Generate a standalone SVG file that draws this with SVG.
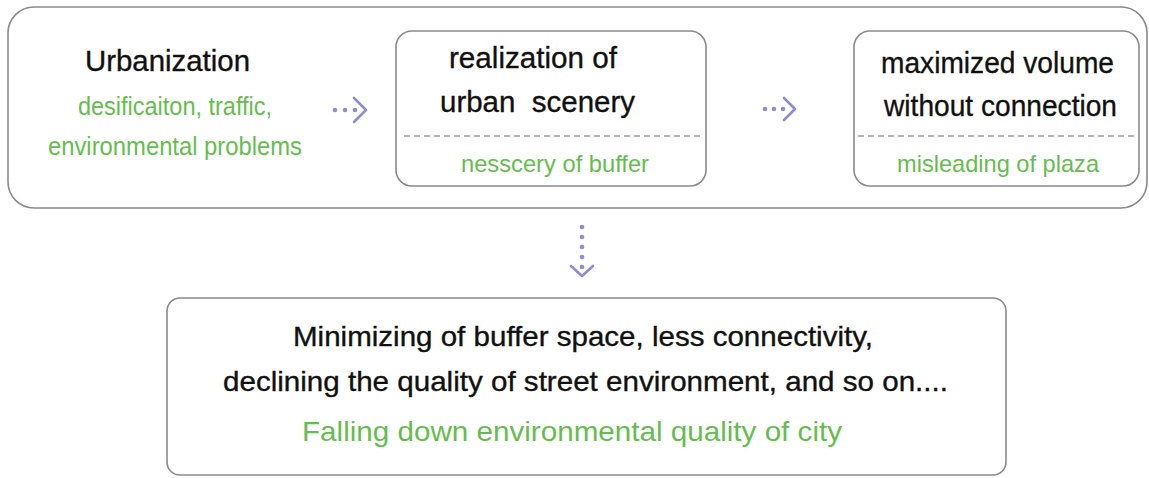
<svg xmlns="http://www.w3.org/2000/svg" width="1149" height="478" viewBox="0 0 1149 478">
<defs>
<style>
.box{fill:#fff;stroke:#8a8a8a;stroke-width:1.6}
.t{font-family:"Liberation Sans",Arial,sans-serif;fill:#111;stroke:#111;stroke-width:0.35}
.g{font-family:"Liberation Sans",Arial,sans-serif;fill:#66bd4f}
.dash{stroke:#9a9a9a;stroke-width:1.6;stroke-dasharray:6 4;fill:none}
.dot{fill:#8f8bd6}
.chev{fill:none;stroke:#8f8bd6;stroke-width:2.6;stroke-linecap:round;stroke-linejoin:round}
</style>
</defs>
<rect width="1149" height="478" fill="#fff"/>
<g id="outer">
<rect class="box" x="8" y="7" width="1139" height="201" rx="26"/>
</g>
<g id="urbanization">
<text class="t" x="85" y="71" font-size="29.5" textLength="165" lengthAdjust="spacingAndGlyphs">Urbanization</text>
<text class="g" x="78" y="115" font-size="25" textLength="194" lengthAdjust="spacingAndGlyphs">desificaiton, traffic,</text>
<text class="g" x="48" y="155" font-size="25" textLength="254" lengthAdjust="spacingAndGlyphs">environmental problems</text>
</g>
<g id="realization">
<rect class="box" x="396" y="31" width="310" height="155" rx="16"/>
<text class="t" x="449" y="68" font-size="30" textLength="168" lengthAdjust="spacingAndGlyphs">realization of</text>
<text class="t" x="440" y="112" font-size="30" textLength="195" lengthAdjust="spacingAndGlyphs" xml:space="preserve">urban  scenery</text>
<line class="dash" x1="404" y1="136" x2="700" y2="136"/>
<text class="g" x="461" y="172" font-size="24" textLength="188" lengthAdjust="spacingAndGlyphs">nesscery of buffer</text>
</g>
<g id="maximized">
<rect class="box" x="854" y="31" width="285" height="155" rx="16"/>
<text class="t" x="881" y="73" font-size="30" textLength="233" lengthAdjust="spacingAndGlyphs">maximized volume</text>
<text class="t" x="884" y="116" font-size="30" textLength="233" lengthAdjust="spacingAndGlyphs">without connection</text>
<line class="dash" x1="858" y1="136" x2="1136" y2="136"/>
<text class="g" x="897" y="172" font-size="24" textLength="202" lengthAdjust="spacingAndGlyphs">misleading of plaza</text>
</g>
<g id="result">
<rect class="box" x="167" y="298" width="839" height="177" rx="13"/>
<text class="t" x="293" y="346" font-size="28" textLength="580" lengthAdjust="spacingAndGlyphs">Minimizing of buffer space, less connectivity,</text>
<text class="t" x="223" y="391" font-size="28" textLength="725" lengthAdjust="spacingAndGlyphs">declining the quality of street environment, and so on....</text>
<text class="g" x="302" y="441" font-size="28" textLength="540" lengthAdjust="spacingAndGlyphs">Falling down environmental quality of city</text>
</g>
<g id="connectors">
<g id="arrow1">
<circle class="dot" cx="335" cy="110" r="2.3"/>
<circle class="dot" cx="345" cy="110" r="2.3"/>
<circle class="dot" cx="355" cy="110" r="2.3"/>
<polyline class="chev" points="354,98 366,110 354,122"/>
</g>
<g id="arrow2">
<circle class="dot" cx="765" cy="109" r="2.3"/>
<circle class="dot" cx="774" cy="109" r="2.3"/>
<circle class="dot" cx="783" cy="109" r="2.3"/>
<polyline class="chev" points="784,98 795,109 784,120"/>
</g>
<g id="arrow3">
<circle class="dot" cx="582" cy="227" r="2.3"/>
<circle class="dot" cx="582" cy="237" r="2.3"/>
<circle class="dot" cx="582" cy="247" r="2.3"/>
<circle class="dot" cx="582" cy="257" r="2.3"/>
<circle class="dot" cx="582" cy="267" r="2.3"/>
<polyline class="chev" points="571,266 582,276 593,266"/>
</g>
</g>
</svg>
